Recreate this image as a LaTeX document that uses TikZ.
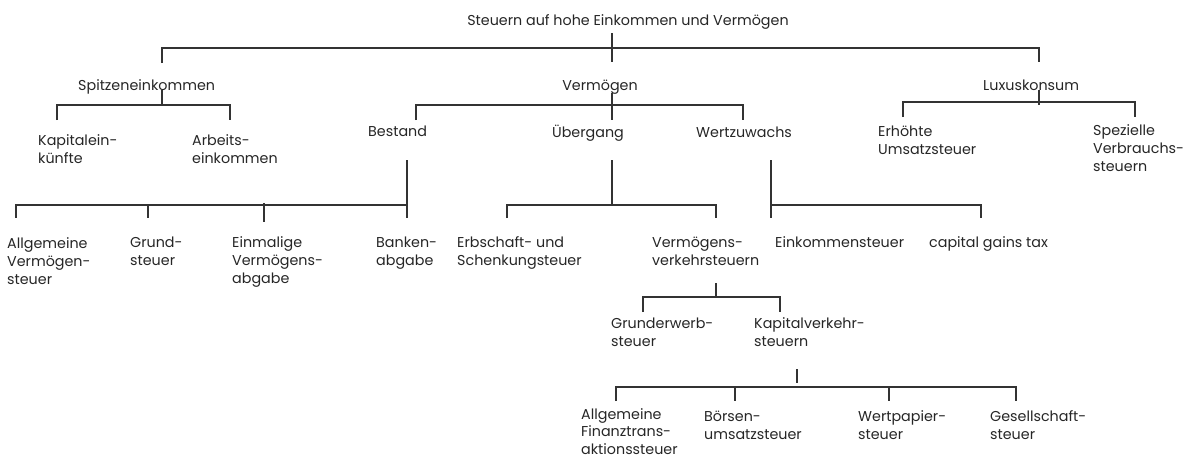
\documentclass[tikz,border=0pt]{standalone}
\usepackage{fontspec}
\setmainfont{Poppins}
\newcommand{\fsz}{\fontsize{14.3}{18}\selectfont}
\newcommand{\fszb}{\fontsize{14.3}{17.2}\selectfont}
\begin{document}
\begin{tikzpicture}[x=1pt,y=-1pt,
  txt/.style={anchor=base west, align=left, inner sep=0pt, font=\fsz, text=black!85},
  ctxt/.style={txt, anchor=base},
  conn/.style={draw=black!80, line width=1.2pt}]
\useasboundingbox (0,0) rectangle (1187,458);
% texts (anchor = baseline of the last line)
\node[ctxt] (root) at (628,25) {Steuern auf hohe Einkommen und Vermögen};
\node[txt] (spitze) at (78,90) {Spitzeneinkommen};
\node[ctxt] (verm) at (600,90) {Vermögen};
\node[txt] (luxus) at (983,90) {Luxuskonsum};
\node[txt] (kap) at (38,163) {Kapitalein-\\künfte};
\node[txt] (arb) at (192,163) {Arbeits-\\einkommen};
\node[txt] (best) at (368,136) {Bestand};
\node[ctxt] (ueb) at (588,137) {Übergang};
\node[txt] (wert) at (696,137) {Wertzuwachs};
\node[txt] (erh) at (878,154) {Erhöhte\\Umsatzsteuer};
\node[txt] (spez) at (1093,171) {Spezielle\\Verbrauchs-\\steuern};
\node[txt] (allgv) at (7,284) {Allgemeine\\Vermögen-\\steuer};
\node[txt] (grund) at (130,265) {Grund-\\steuer};
\node[txt] (einm) at (232,283) {Einmalige\\Vermögens-\\abgabe};
\node[txt] (bank) at (376,265) {Banken-\\abgabe};
\node[txt] (erb) at (457,265) {Erbschaft- und\\Schenkungsteuer};
\node[txt] (vvs) at (652,265) {Vermögens-\\verkehrsteuern};
\node[txt] (eks) at (775,247) {Einkommensteuer};
\node[txt] (cgt) at (929,247) {capital gains tax};
\node[txt] (gew) at (611,346) {Grunderwerb-\\steuer};
\node[txt] (kvs) at (754,346) {Kapitalverkehr-\\steuern};
\node[txt, font=\fszb] (aft) at (581,454) {Allgemeine\\Finanztrans-\\aktionssteuer};
\node[txt] (boe) at (704,439) {Börsen-\\umsatzsteuer};
\node[txt] (wps) at (858,439) {Wertpapier-\\steuer};
\node[txt] (ges) at (990,439) {Gesellschaft-\\steuer};
% connector coordinates
\coordinate (r1) at (612,33); \coordinate (r2) at (612,62);
\coordinate (rl) at (162,48); \coordinate (rr) at (1039,48);
\coordinate (rl2) at (162,63); \coordinate (rr2) at (1039,62);
\coordinate (s1) at (162,90); \coordinate (s2) at (162,105);
\coordinate (sl) at (57,105); \coordinate (sr) at (230,105);
\coordinate (sl2) at (57,120); \coordinate (sr2) at (230,120);
\coordinate (v1) at (612,93); \coordinate (v2) at (612,105);
\coordinate (vl) at (416,105); \coordinate (vr) at (743,105);
\coordinate (vl2) at (416,120); \coordinate (vm2) at (612,120); \coordinate (vr2) at (743,120);
\coordinate (l1) at (1039,90); \coordinate (l2) at (1039,105);
\coordinate (ll) at (903,102); \coordinate (lr) at (1135,102);
\coordinate (ll2) at (903,117); \coordinate (lr2) at (1135,117);
\coordinate (b1) at (407,160); \coordinate (b2) at (407,218);
\coordinate (bb) at (407,205); \coordinate (bl) at (16,205);
\coordinate (bg) at (148,205); \coordinate (be) at (264,203);
\coordinate (bl2) at (16,218); \coordinate (bg2) at (148,218); \coordinate (be2) at (264,222);
\coordinate (u1) at (612,160); \coordinate (u2) at (612,205);
\coordinate (ul) at (507,205); \coordinate (ur) at (716,205);
\coordinate (ul2) at (507,218); \coordinate (ur2) at (716,218);
\coordinate (w1) at (771,160); \coordinate (w2) at (771,218);
\coordinate (wb) at (771,205); \coordinate (wr) at (981,205); \coordinate (wr2) at (981,218);
\coordinate (g1) at (716,283); \coordinate (g2) at (716,297);
\coordinate (gl) at (643,297); \coordinate (gr) at (780,297);
\coordinate (gl2) at (643,312); \coordinate (gr2) at (780,312);
\coordinate (k1) at (797,369); \coordinate (k2) at (797,383);
\coordinate (kl) at (616,387); \coordinate (kr) at (1016,387);
\coordinate (kb) at (735,387); \coordinate (kw) at (889,387);
\coordinate (kl2) at (616,401); \coordinate (kb2) at (735,401);
\coordinate (kw2) at (889,401); \coordinate (kr2) at (1016,401);
% connectors
\draw[conn] (r1) -- (r2);
\draw[conn] (rl2) -- (rl) -- (rr) -- (rr2);
\draw[conn] (s1) -- (s2);
\draw[conn] (sl2) -- (sl) -- (sr) -- (sr2);
\draw[conn] (v1) -- (vm2);
\draw[conn] (vl2) -- (vl) -- (vr) -- (vr2);
\draw[conn] (l1) -- (l2);
\draw[conn] (ll2) -- (ll) -- (lr) -- (lr2);
\draw[conn] (b1) -- (b2);
\draw[conn] (bb) -- (bl) -- (bl2);
\draw[conn] (bg) -- (bg2);
\draw[conn] (be) -- (be2);
\draw[conn] (u1) -- (u2);
\draw[conn] (ul2) -- (ul) -- (ur) -- (ur2);
\draw[conn] (w1) -- (w2);
\draw[conn] (wb) -- (wr) -- (wr2);
\draw[conn] (g1) -- (g2);
\draw[conn] (gl2) -- (gl) -- (gr) -- (gr2);
\draw[conn] (k1) -- (k2);
\draw[conn] (kl2) -- (kl) -- (kr) -- (kr2);
\draw[conn] (kb) -- (kb2);
\draw[conn] (kw) -- (kw2);
\end{tikzpicture}
\end{document}
